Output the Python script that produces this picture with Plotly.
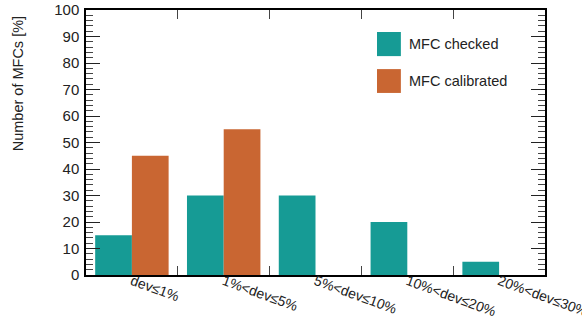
import plotly.graph_objects as go

categories = ["dev≤1%", "1%<dev≤5%", "5%<dev≤10%", "10%<dev≤20%", "20%<dev≤30%"]
checked = [15, 30, 30, 20, 5]
calibrated = [45, 55, 0, 0, 0]
series_names = ["MFC checked", "MFC calibrated"]
y_title = "Number of MFCs [%]"
colors = ["#169b95", "#c96632"]
FONT = "Arial, Liberation Sans, sans-serif"

fig = go.Figure()
fig.add_bar(x=categories, y=checked, name=series_names[0], marker_color=colors[0],
            marker_line_width=0, showlegend=False)
fig.add_bar(x=categories, y=calibrated, name=series_names[1], marker_color=colors[1],
            marker_line_width=0, showlegend=False)
# carrier trace for the (slightly raised) category label axis
fig.add_scatter(x=categories, y=[None] * len(categories), xaxis="x2", mode="none",
                showlegend=False, hoverinfo="skip")

# manual ROOT-like legend
leg = [(0.917, 0.826, 0.872), (0.777, 0.687, 0.732)]
for (y1, y0, yt), name, c in zip(leg, series_names, colors):
    fig.add_shape(type="rect", xref="paper", yref="paper", x0=0.634, x1=0.686, y0=y0, y1=y1,
                  fillcolor=c, line_width=0)
    fig.add_annotation(xref="paper", yref="paper", x=0.699, y=yt, text=name, showarrow=False,
                       xanchor="left", yanchor="middle",
                       font=dict(size=14.5, color="#222", family=FONT))

# ROOT-style y title, aligned toward the top of the axis
fig.add_annotation(xref="paper", yref="paper", x=-0.148, y=0.72, text=y_title, showarrow=False,
                   textangle=-90, xanchor="center", yanchor="middle",
                   font=dict(size=14.5, color="#222", family=FONT))

fig.update_layout(
    width=582, height=322,
    margin=dict(l=86, r=37, t=10, b=47),
    paper_bgcolor="white", plot_bgcolor="white",
    barmode="group", bargap=0.2, bargroupgap=0,
    font=dict(family=FONT, size=14, color="#222"),
    xaxis=dict(
        type="category", range=[-0.5, 4.5], tickson="boundaries", automargin=False,
        ticks="inside", ticklen=9, tickcolor="#444", tickwidth=1,
        showline=True, linecolor="black", linewidth=1.5, mirror="ticks",
        showgrid=False, showticklabels=False,
    ),
    xaxis2=dict(
        type="category", range=[-0.5, 4.5], overlaying="x", anchor="free", position=0.02,
        side="bottom", automargin=False, ticks="", showline=False, showgrid=False,
        zeroline=False, tickangle=20, tickfont=dict(size=14, color="#222", family=FONT),
    ),
    yaxis=dict(
        range=[0, 100], dtick=10, ticks="inside", ticklen=14, tickcolor="#222", tickwidth=1,
        minor=dict(dtick=2, ticks="inside", ticklen=7, tickcolor="#444", tickwidth=1, showgrid=False),
        showline=True, linecolor="black", linewidth=1.5, mirror="ticks", automargin=False,
        showgrid=False, zeroline=False, ticklabelstandoff=2,
        tickfont=dict(size=15, color="#222", family=FONT),
    ),
)

fig.write_html("out.html", post_script="document.body.style.margin='0';",
               config={"displayModeBar": False})
